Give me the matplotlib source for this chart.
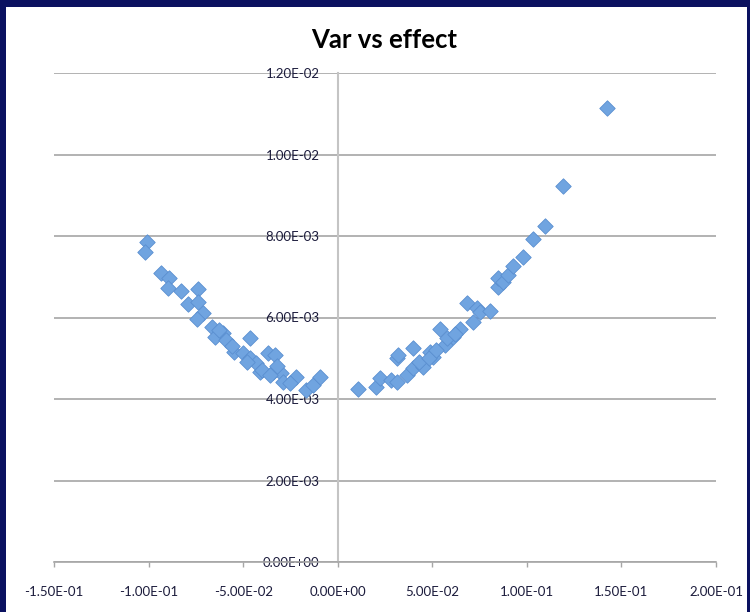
import matplotlib.pyplot as plt
from matplotlib.patches import Rectangle
from matplotlib.ticker import FuncFormatter, MultipleLocator

# values
var_left = [-0.1008, -0.1019, -0.0934, -0.0890, -0.0899, -0.0828, -0.0740, -0.0793,
            -0.0740, -0.0713, -0.0743, -0.0664, -0.0651, -0.0604, -0.0593, -0.0466,
            -0.0546, -0.0502, -0.0466, -0.0431, -0.0369, -0.0334, -0.0413, -0.0343,
            -0.0298, -0.0290, -0.0219, -0.0254, -0.0166, -0.0131, -0.0095,
            -0.0630, -0.0560, -0.0480, -0.0400, -0.0360, -0.0320]
eff_left = [0.00785, 0.00760, 0.00709, 0.00698, 0.00672, 0.00666, 0.00670, 0.00633,
            0.00637, 0.00610, 0.00596, 0.00577, 0.00553, 0.00561, 0.00545, 0.00549,
            0.00516, 0.00512, 0.00500, 0.00488, 0.00512, 0.00508, 0.00467, 0.00467,
            0.00463, 0.00442, 0.00455, 0.00439, 0.00422, 0.00434, 0.00453,
            0.00570, 0.00530, 0.00490, 0.00470, 0.00460, 0.00480]

var_right = [0.0108, 0.0205, 0.0222, 0.0284, 0.0311, 0.0311, 0.0318, 0.0364, 0.0399,
             0.0399, 0.0452, 0.0487, 0.0505, 0.0540, 0.0567, 0.0611, 0.0646, 0.0682,
             0.0717, 0.0735, 0.0752, 0.0805, 0.0849, 0.0849, 0.0876, 0.0902, 0.0929,
             0.0981, 0.1031, 0.1096, 0.1190, 0.1426,
             0.0430, 0.0480, 0.0520, 0.0580, 0.0620]
eff_right = [0.00424, 0.00429, 0.00451, 0.00447, 0.00442, 0.00500, 0.00508, 0.00459,
             0.00524, 0.00475, 0.00479, 0.00516, 0.00504, 0.00573, 0.00533, 0.00553,
             0.00573, 0.00635, 0.00590, 0.00623, 0.00614, 0.00617, 0.00676, 0.00696,
             0.00688, 0.00704, 0.00727, 0.00748, 0.00792, 0.00825, 0.00923, 0.01113,
             0.00490, 0.00500, 0.00520, 0.00550, 0.00560]

x_vals = var_left + var_right
y_vals = eff_left + eff_right

plt.rcParams['font.family'] = ['Lato', 'DejaVu Sans']

fig = plt.figure(figsize=(7.5, 6.12), dpi=100)
fig.patch.set_facecolor('#0b1160')
# white card inside the navy frame
card = Rectangle((6 / 750, 0), 1 - 9 / 750, 1 - 7 / 612,
                 transform=fig.transFigure, facecolor='white',
                 edgecolor='none', zorder=-5)
fig.add_artist(card)

ax = fig.add_axes([54 / 750, 50 / 612, 662 / 750, 489 / 612])
ax.set_facecolor('none')

ax.scatter(x_vals, y_vals, marker='D', s=62, color='#70a4e0',
           edgecolors='#5a8fd0', linewidths=0.6, zorder=3)

ax.set_xlim(-0.15, 0.2)
ax.set_ylim(0, 0.012)
ax.xaxis.set_major_locator(MultipleLocator(0.05))
ax.yaxis.set_major_locator(MultipleLocator(0.002))

fmt = FuncFormatter(lambda v, p: '{:.2E}'.format(0.0 if abs(v) < 1e-12 else v))
ax.xaxis.set_major_formatter(fmt)
ax.yaxis.set_major_formatter(fmt)

ax.grid(axis='y', color='#a6a6a6', linewidth=1.2)
ax.set_axisbelow(True)

for s in ['top', 'right']:
    ax.spines[s].set_visible(False)
ax.spines['left'].set_position(('data', 0))
ax.spines['left'].set_color('#c4c4c4')
ax.spines['left'].set_linewidth(1.5)
ax.spines['bottom'].set_color('#a6a6a6')
ax.spines['bottom'].set_linewidth(1.2)

ax.tick_params(axis='x', direction='out', length=3.5, width=1, color='#a6a6a6',
               labelsize=9.5, pad=14, labelcolor='#1c1c3c')
ax.tick_params(axis='y', length=0, labelsize=9.5, pad=13, labelcolor='#1c1c3c')

fig.text(0.512, 0.935, 'Var vs effect', ha='center', va='center',
         fontsize=18.5, fontweight='bold', color='black')

fig.savefig('out.png', dpi=100, facecolor=fig.get_facecolor())
